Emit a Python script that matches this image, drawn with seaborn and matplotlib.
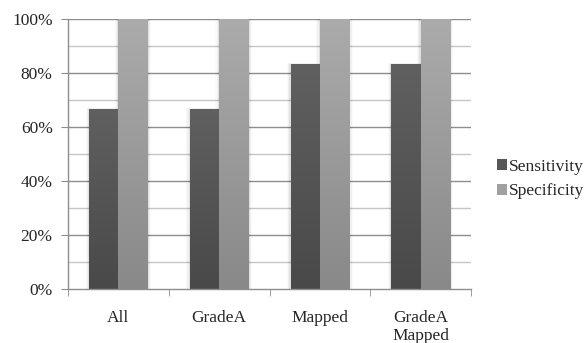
import numpy as np
import pandas as pd
import matplotlib
matplotlib.use("Agg")
import matplotlib.pyplot as plt
import seaborn as sns
from matplotlib.colors import LinearSegmentedColormap
from matplotlib.patches import Rectangle

categories = ["All", "GradeA", "Mapped", "GradeA\nMapped"]
sensitivity = [66.7, 66.7, 83.3, 83.3]
specificity = [100.0, 100.0, 100.0, 100.0]
series = ["Sensitivity", "Specificity"]
y_ticks = [0, 20, 40, 60, 80, 100]

df = pd.DataFrame({
    "cat": categories * 2,
    "val": sensitivity + specificity,
    "metric": ["Sensitivity"] * 4 + ["Specificity"] * 4,
})

sns.set_style("white")
plt.rcParams["font.family"] = ["Liberation Serif", "DejaVu Serif"]

FS = 12.5

fig = plt.figure(figsize=(5.85, 3.43), dpi=100)
ax = fig.add_axes([68 / 585, 1 - 289 / 343, (471 - 68) / 585, (289 - 19) / 343])

top_cols = {"Sensitivity": "#606060", "Specificity": "#ababab"}
bot_cols = {"Sensitivity": "#494949", "Specificity": "#898989"}

sns.barplot(data=df, x="cat", y="val", hue="metric", hue_order=series,
            palette=top_cols, width=0.58, ax=ax, legend=False,
            saturation=1, linewidth=0, zorder=3)

ax.set_ylim(0, 100)
ax.set_xlim(-0.5, 3.5)

# minor and major horizontal grid lines
for v in range(10, 100, 10):
    major = v % 20 == 0
    ax.axhline(v, color="#8e8e8e" if major else "#c6c6c6", lw=1.0, zorder=1)
ax.axhline(100, color="#8e8e8e", lw=1.0, zorder=1)

# vertical gradient fill for each bar, with a soft shadow behind
for i, p in enumerate(ax.patches):
    metric = series[i // 4]
    x0, y0 = p.get_x(), p.get_y()
    w, h = p.get_width(), p.get_height()
    if h <= 0:
        continue
    for k, a in enumerate([0.06, 0.04, 0.02]):
        pad = 0.012 * (k + 1)
        ax.add_patch(Rectangle((x0 - pad, y0), w + 2 * pad, h + pad * 12,
                               color="black", alpha=a, lw=0, zorder=2))
    cmap = LinearSegmentedColormap.from_list(
        metric, [bot_cols[metric], top_cols[metric]])
    grad = np.linspace(0, 1, 256).reshape(-1, 1)
    im = ax.imshow(grad, extent=[x0, x0 + w, y0, y0 + h], origin="lower",
                   cmap=cmap, aspect="auto", zorder=3.5)
    im.set_clip_path(p)
ax.set_xlim(-0.5, 3.5)
ax.set_ylim(0, 100)

for s in ["top", "right"]:
    ax.spines[s].set_visible(False)
for s in ["left", "bottom"]:
    ax.spines[s].set_color("#8e8e8e")
    ax.spines[s].set_linewidth(1.0)
    ax.spines[s].set_zorder(4)

ax.set_yticks(y_ticks)
ax.set_yticklabels([f"{t}%" for t in y_ticks])
ax.set_xticks(range(4))
ax.set_xticklabels(categories, linespacing=1.22)
ax.set_xticks([-0.5, 0.5, 1.5, 2.5, 3.5], minor=True)
ax.tick_params(axis="x", which="major", length=0, pad=15, labelsize=FS)
ax.tick_params(axis="x", which="minor", length=5, color="#8e8e8e",
               direction="out", bottom=True)
ax.tick_params(axis="y", length=5, color="#8e8e8e", direction="out",
               left=True, pad=6, labelsize=FS)
ax.set_xlabel("")
ax.set_ylabel("")

handles = [Rectangle((0, 0), 1, 1, facecolor="#575757", lw=0),
           Rectangle((0, 0), 1, 1, facecolor="#a0a0a0", lw=0)]
fig.legend(handles, series, loc="center left",
           bbox_to_anchor=(497 / 585, 1 - 179 / 343), frameon=False,
           fontsize=FS, handlelength=0.6, handleheight=0.6,
           handletextpad=0.08, labelspacing=0.5, borderpad=0, borderaxespad=0)

fig.savefig("out.png", dpi=100)
